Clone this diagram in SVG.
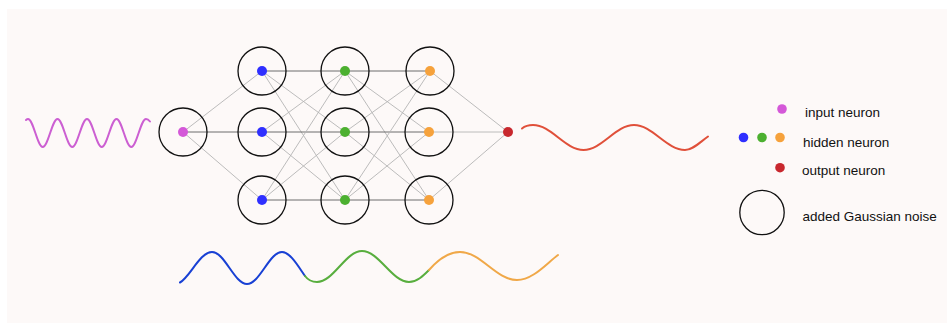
<svg xmlns="http://www.w3.org/2000/svg" width="947" height="324" viewBox="0 0 947 324">
  <style>
    .noise { fill: none; stroke: #111; stroke-width: 1.3; }
    .edge { stroke: #b4b4b4; stroke-width: 0.9; fill: none; }
    .edge-h { stroke: #6c6c6c; stroke-width: 1; fill: none; }
    .wave { fill: none; stroke-width: 2; stroke-linecap: round; }
    .label { font-family: "Liberation Sans", Arial, sans-serif; font-size: 13.5px; fill: #111; }
    .in { fill: #d458d8; }
    .h1 { fill: #2f2fff; }
    .h2 { fill: #4cb030; }
    .h3 { fill: #f6a23c; }
    .out { fill: #c8282e; }
  </style>

  <!-- canvas -->
  <rect x="7" y="9" width="940" height="314" fill="#fdf9f8"/>

  <!-- connectors -->
  <g id="connectors">
    <!-- input to hidden 1 -->
    <line class="edge" x1="183" y1="132" x2="262" y2="71"/>
    <line class="edge-h" x1="183" y1="132" x2="262" y2="132"/>
    <line class="edge" x1="183" y1="132" x2="262" y2="200"/>
    <!-- hidden 1 to hidden 2 -->
    <line class="edge-h" x1="262" y1="71" x2="345" y2="71"/>
    <line class="edge" x1="262" y1="71" x2="345" y2="132"/>
    <line class="edge" x1="262" y1="71" x2="345" y2="200"/>
    <line class="edge" x1="262" y1="132" x2="345" y2="71"/>
    <line class="edge-h" x1="262" y1="132" x2="345" y2="132"/>
    <line class="edge" x1="262" y1="132" x2="345" y2="200"/>
    <line class="edge" x1="262" y1="200" x2="345" y2="71"/>
    <line class="edge" x1="262" y1="200" x2="345" y2="132"/>
    <line class="edge-h" x1="262" y1="200" x2="345" y2="200"/>
    <!-- hidden 2 to hidden 3 -->
    <line class="edge-h" x1="345" y1="71" x2="430" y2="71"/>
    <line class="edge" x1="345" y1="71" x2="429" y2="132"/>
    <line class="edge" x1="345" y1="71" x2="429" y2="200"/>
    <line class="edge" x1="345" y1="132" x2="430" y2="71"/>
    <line class="edge-h" x1="345" y1="132" x2="429" y2="132"/>
    <line class="edge" x1="345" y1="132" x2="429" y2="200"/>
    <line class="edge" x1="345" y1="200" x2="430" y2="71"/>
    <line class="edge" x1="345" y1="200" x2="429" y2="132"/>
    <line class="edge-h" x1="345" y1="200" x2="429" y2="200"/>
    <!-- hidden 3 to output -->
    <line class="edge" x1="430" y1="71" x2="508" y2="132"/>
    <line class="edge" x1="429" y1="132" x2="508" y2="132"/>
    <line class="edge" x1="429" y1="200" x2="508" y2="132"/>
  </g>

  <!-- input layer -->
  <g id="input">
    <circle class="noise" cx="183" cy="132" r="24"/>
    <circle class="in" cx="183" cy="132" r="5"/>
  </g>

  <!-- hidden layer 1 -->
  <g id="h1-top">
    <circle class="noise" cx="262" cy="71" r="24"/>
    <circle class="h1" cx="262" cy="71" r="5"/>
  </g>
  <g id="h1-mid">
    <circle class="noise" cx="262" cy="132" r="24"/>
    <circle class="h1" cx="262" cy="132" r="5"/>
  </g>
  <g id="h1-bot">
    <circle class="noise" cx="262" cy="200" r="24"/>
    <circle class="h1" cx="262" cy="200" r="5"/>
  </g>

  <!-- hidden layer 2 -->
  <g id="h2-top">
    <circle class="noise" cx="345" cy="71" r="24" stroke-width="1.6"/>
    <circle class="h2" cx="345" cy="71" r="5"/>
  </g>
  <g id="h2-mid">
    <circle class="noise" cx="345" cy="132" r="24"/>
    <circle class="h2" cx="345" cy="132" r="5"/>
  </g>
  <g id="h2-bot">
    <circle class="noise" cx="345" cy="200" r="24"/>
    <circle class="h2" cx="345" cy="200" r="5"/>
  </g>

  <!-- hidden layer 3 -->
  <g id="h3-top">
    <circle class="noise" cx="430" cy="71" r="24"/>
    <circle class="h3" cx="430" cy="71" r="5"/>
  </g>
  <g id="h3-mid">
    <circle class="noise" cx="429" cy="132" r="24"/>
    <circle class="h3" cx="429" cy="132" r="5"/>
  </g>
  <g id="h3-bot">
    <circle class="noise" cx="429" cy="200" r="24"/>
    <circle class="h3" cx="429" cy="200" r="5"/>
  </g>

  <!-- output -->
  <g id="output">
    <circle class="out" cx="508" cy="132" r="5"/>
  </g>

  <!-- signals -->
  <g id="signals">
    <path class="wave" stroke="#cc5fd2" d="M26,120 C26.8,119.3 27.3,119 28,119 C33.37,119 37.38,147 42.75,147 S52.13,119 57.5,119 S66.88,147 72.25,147 S81.63,119 87,119 S96.38,147 101.75,147 S111.13,119 116.5,119 S125.88,147 131.25,147 S140.63,119 146,119 C147.6,119 148.8,120 150,121.5"/>
    <path class="wave" stroke="#e0503a" d="M522,128.5 C525,126 529,125 533,125 C551.4,125 565.1,150 583.5,150 S615.6,125 634,125 S666.6,150 685,150 C693,150 700,142 708,136.5"/>
    <path class="wave" stroke="#1840d4" d="M180,282.5 C190,277 200,252 212,252 C224.7,252 234.3,284 247,284 S269.3,252 282,252 C290,252 298,266 305,276"/>
    <path class="wave" stroke="#58ae3e" d="M305,276 C308,280 312,282 317,282 C333.5,282 345.5,251 362,251 C379,251 392,282 409,282 C417,282 423,276 429,270"/>
    <path class="wave" stroke="#f0a848" d="M429,270 C436,262 447,252 460,252 C481,252 496,280 517,280 C533,280 547,263 558,255"/>
  </g>

  <!-- legend -->
  <g id="legend-input">
    <circle class="in" cx="782" cy="109" r="4.8"/>
    <text class="label" x="805" y="116.5">input neuron</text>
  </g>
  <g id="legend-hidden">
    <circle class="h1" cx="743.5" cy="137.5" r="4.8"/>
    <circle class="h2" cx="762" cy="137.5" r="4.8"/>
    <circle class="h3" cx="780" cy="137.5" r="4.8"/>
    <text class="label" x="803" y="146.5">hidden neuron</text>
  </g>
  <g id="legend-output">
    <circle class="out" cx="780" cy="167.7" r="4.8"/>
    <text class="label" x="802" y="175">output neuron</text>
  </g>
  <g id="legend-noise">
    <circle class="noise" cx="762" cy="212.5" r="22.2" stroke-width="1.1"/>
    <text class="label" x="802.5" y="221">added Gaussian noise</text>
  </g>
</svg>
